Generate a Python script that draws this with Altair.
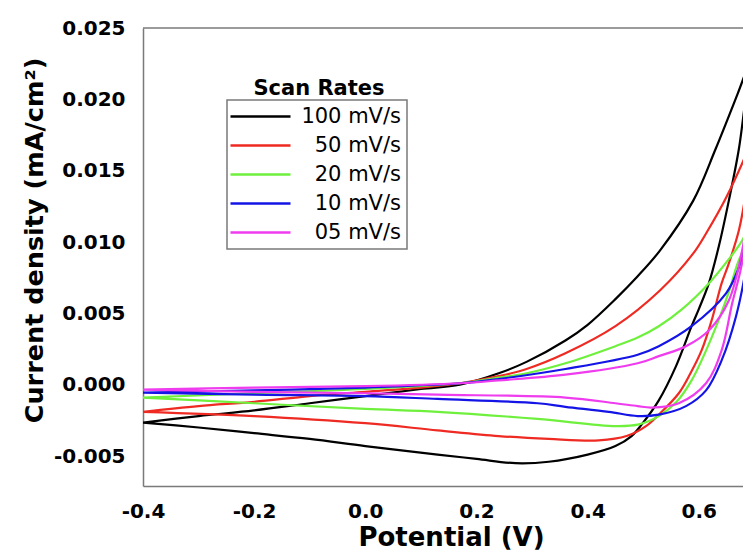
import altair as alt
import pandas as pd

series = ["100 mV/s", "50 mV/s", "20 mV/s", "10 mV/s", "05 mV/s"]
colors = ["#000000", "#ee2a22", "#6ef03c", "#1414e6", "#ee3cee"]
legend_title = "Scan Rates"
x_title = "Potential (V)"
y_title = "Current density (mA/cm²)"
x_ticks = [-0.4, -0.2, 0.0, 0.2, 0.4, 0.6]
y_ticks = [-0.005, 0.0, 0.005, 0.010, 0.015, 0.020, 0.025]

# 100 mV/s loop (forward scan then reverse scan)
v100 = [-0.40, -0.30, -0.20, -0.10, 0.00, 0.10, 0.17, 0.24, 0.29, 0.36, 0.40, 0.45, 0.49, 0.53, 0.59, 0.63, 0.67, 0.70,
        0.686, 0.672, 0.654, 0.636, 0.618, 0.600, 0.587, 0.559, 0.528, 0.497, 0.479, 0.45, 0.40, 0.33, 0.27, 0.20, 0.13,
        0.00, -0.10, -0.20, -0.30, -0.40]
i100 = [-0.00266, -0.0022, -0.0018, -0.0013, -0.0008, -0.0003, 0.0000, 0.0008, 0.0016, 0.0031, 0.0042, 0.0060, 0.0076,
        0.0094, 0.0129, 0.0165, 0.0204, 0.0234,
        0.0205, 0.0165, 0.0129, 0.0097, 0.0071, 0.0053, 0.0041, 0.0013, -0.0011, -0.0028, -0.0036, -0.0043, -0.0049,
        -0.0054, -0.0055, -0.0052, -0.0049, -0.0043, -0.0038, -0.0034, -0.0030, -0.00266]

# 50 mV/s loop
v50 = [-0.40, -0.30, -0.20, -0.10, 0.00, 0.10, 0.17, 0.24, 0.29, 0.36, 0.45, 0.53, 0.59, 0.613, 0.649, 0.69, 0.70,
       0.685, 0.672, 0.654, 0.641, 0.623, 0.605, 0.585, 0.564, 0.528, 0.505, 0.47, 0.42, 0.33, 0.24, 0.13, 0.00,
       -0.20, -0.40]
i50 = [-0.0019, -0.0015, -0.0012, -0.0008, -0.0005, -0.0002, 0.0001, 0.0006, 0.0011, 0.0022, 0.0041, 0.0066, 0.0092,
       0.0106, 0.0131, 0.0166, 0.0176,
       0.0135, 0.0108, 0.0085, 0.0071, 0.0045, 0.0024, 0.0008, -0.0006, -0.0021, -0.0029, -0.0036, -0.0039, -0.0038,
       -0.0036, -0.0032, -0.0027, -0.0022, -0.0019]

# 20 mV/s loop
v20 = [-0.40, -0.20, 0.00, 0.17, 0.24, 0.29, 0.36, 0.45, 0.49, 0.528, 0.57, 0.618, 0.654, 0.678, 0.69, 0.70,
       0.685, 0.668, 0.654, 0.623, 0.587, 0.56, 0.528, 0.49, 0.45, 0.31, 0.13, 0.00, -0.20, -0.40]
i20 = [-0.0009, -0.0006, -0.0003, 0.0001, 0.0005, 0.0008, 0.0015, 0.0027, 0.0033, 0.0041, 0.0053, 0.0071, 0.0088,
       0.0101, 0.0112, 0.0122,
       0.0100, 0.0083, 0.0065, 0.0033, 0.0003, -0.0012, -0.0022, -0.0028, -0.0029, -0.0024, -0.0019, -0.0017,
       -0.0013, -0.0009]

# 10 mV/s loop
v10 = [-0.40, -0.20, 0.00, 0.17, 0.24, 0.36, 0.49, 0.528, 0.587, 0.649, 0.672, 0.685, 0.70,
       0.69, 0.685, 0.667, 0.641, 0.613, 0.577, 0.528, 0.49, 0.438, 0.36, 0.31, 0.13, 0.00, -0.20, -0.40]
i10 = [-0.00056, -0.0004, -0.0002, 0.0001, 0.0004, 0.0011, 0.0021, 0.0027, 0.0041, 0.0064, 0.0082, 0.0099, 0.0122,
       0.0098, 0.0082, 0.0048, 0.0017, -0.0004, -0.0015, -0.0021, -0.0022, -0.0019, -0.00155, -0.0013, -0.0010,
       -0.0008, -0.0007, -0.00056]

# 05 mV/s loop
v05 = [-0.40, -0.20, 0.00, 0.17, 0.24, 0.36, 0.49, 0.528, 0.577, 0.618, 0.654, 0.678, 0.69, 0.70,
       0.69, 0.675, 0.66, 0.641, 0.613, 0.564, 0.515, 0.49, 0.45, 0.36, 0.13, 0.00, -0.20, -0.40]
i05 = [-0.00035, -0.0002, -0.0001, 0.0001, 0.0003, 0.0007, 0.0015, 0.0020, 0.0027, 0.0038, 0.0059, 0.0094, 0.0125,
       0.0145,
       0.0112, 0.0080, 0.0057, 0.0024, 0.0001, -0.0013, -0.0016, -0.0015, -0.0013, -0.0009, -0.0007, -0.0006,
       -0.0005, -0.00035]

loops = [(v100, i100), (v50, i50), (v20, i20), (v10, i10), (v05, i05)]
rows = []
for name, (vs, cs) in zip(series, loops):
    for k, (a, b) in enumerate(zip(vs, cs)):
        rows.append({"series": name, "idx": k, "v": a, "i": b})
df = pd.DataFrame(rows)

FONT = "DejaVu Sans"
GRAY = "#7a7a7a"
W, H = 600, 458

lines = alt.Chart(df).mark_line(strokeWidth=2.2, clip=True, interpolate="catmull-rom").encode(
    x=alt.X("v:Q",
            scale=alt.Scale(domain=[-0.4, 0.6795], nice=False, zero=False),
            axis=alt.Axis(values=x_ticks, title=x_title, grid=False, ticks=False,
                          labelExpr="(datum.value < 0 ? '-' : '') + format(abs(datum.value), '.1f')",
                          labelFont=FONT, labelFontWeight="bold", labelFontSize=20, labelColor="black",
                          labelPadding=15, labelFlush=False,
                          domainColor=GRAY, domainWidth=1.5,
                          titleFont=FONT, titleFontWeight="bold", titleFontSize=26, titleColor="black",
                          titleX=308, titleY=59, titleAlign="center", titleBaseline="alphabetic")),
    y=alt.Y("i:Q",
            scale=alt.Scale(domain=[-0.0071, 0.025], nice=False, zero=False),
            axis=alt.Axis(values=y_ticks, title=y_title, grid=False, ticks=False,
                          labelExpr="(datum.value < 0 ? '-' : '') + format(abs(datum.value), '.3f')",
                          labelFont=FONT, labelFontWeight="bold", labelFontSize=20, labelColor="black",
                          labelPadding=18, labelFlush=False,
                          domainColor=GRAY, domainWidth=1.5,
                          titleFont=FONT, titleFontWeight="bold", titleFontSize=25.5, titleColor="black",
                          titleAngle=270, titleX=-101, titleY=212, titleAlign="center",
                          titleBaseline="alphabetic")),
    color=alt.Color("series:N",
                    scale=alt.Scale(domain=series, range=colors),
                    legend=alt.Legend(title=None, orient="none", legendX=84, legendY=72,
                                      strokeColor=GRAY, padding=6,
                                      symbolType="M-13,0H47", symbolSize=4, symbolStrokeWidth=2.5,
                                      labelFont=FONT, labelFontSize=21, labelColor="black",
                                      labelAlign="right", labelOffset=147, rowPadding=7)),
    order="idx:Q",
)

top_rule = alt.Chart(pd.DataFrame({"k": [0]})).mark_rule(color=GRAY, strokeWidth=1.5).encode(
    x=alt.value(0), x2=alt.value(W), y=alt.value(0)
)

leg_title = alt.Chart(pd.DataFrame({"t": [legend_title]})).mark_text(
    font=FONT, fontWeight="bold", fontSize=21, align="center", baseline="alphabetic", color="black"
).encode(text="t:N", x=alt.value(176), y=alt.value(67))

chart = alt.layer(lines, top_rule, leg_title).properties(
    width=W, height=H,
    autosize=alt.AutoSizeParams(type="none"),
    padding={"left": 135, "top": 20, "right": 0, "bottom": 67},
).configure_view(stroke=None).configure_legend(strokeWidth=1.5)

chart.save("out.html", embed_options={"renderer": "svg", "actions": False})
